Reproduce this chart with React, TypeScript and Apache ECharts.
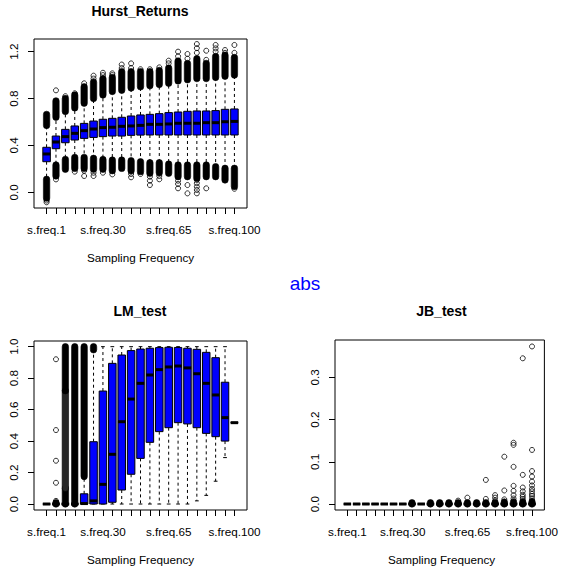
import React, { useEffect, useRef } from "react";
import * as echarts from "echarts";

// ---------- categories & axis ticks ----------
const categories = [
  "s.freq.1", "s.freq.5", "s.freq.10", "s.freq.15", "s.freq.20", "s.freq.25", "s.freq.30",
  "s.freq.35", "s.freq.40", "s.freq.45", "s.freq.50", "s.freq.55", "s.freq.60", "s.freq.65",
  "s.freq.70", "s.freq.75", "s.freq.80", "s.freq.85", "s.freq.90", "s.freq.95", "s.freq.100",
];
const categoryPositions = [1, 2, 3, 4, 5, 6, 7, 8, 9, 10, 11, 12, 13, 14, 15, 16, 17, 18, 19, 20, 21];
const labelledPositions = [1, 7, 14, 21];
const hurstTicks = [0, 0.4, 0.8, 1.2];
const lmTicks = [0, 0.2, 0.4, 0.6, 0.8, 1.0];
const jbTicks = [0, 0.1, 0.2, 0.3];

// ---------- Hurst_Returns ----------
const hurstQ1 = [0.261, 0.372, 0.423, 0.446, 0.46, 0.468, 0.475, 0.48, 0.48, 0.486, 0.488, 0.489, 0.489, 0.489, 0.489, 0.489, 0.489, 0.489, 0.489, 0.489, 0.489];
const hurstMedian = [0.327, 0.429, 0.475, 0.503, 0.526, 0.54, 0.552, 0.555, 0.563, 0.566, 0.571, 0.58, 0.58, 0.583, 0.589, 0.589, 0.589, 0.594, 0.594, 0.602, 0.605];
const hurstQ3 = [0.384, 0.48, 0.537, 0.566, 0.588, 0.608, 0.623, 0.631, 0.64, 0.651, 0.66, 0.665, 0.671, 0.68, 0.685, 0.691, 0.694, 0.694, 0.697, 0.708, 0.711];
const hurstWhiskerHigh = [0.57, 0.64, 0.69, 0.72, 0.76, 0.8, 0.83, 0.86, 0.87, 0.89, 0.9, 0.91, 0.92, 0.93, 0.95, 0.96, 0.97, 0.97, 0.98, 0.99, 1.0];
const hurstWhiskerLow = [0.111, 0.233, 0.281, 0.298, 0.298, 0.29, 0.28, 0.275, 0.275, 0.27, 0.261, 0.253, 0.253, 0.241, 0.233, 0.233, 0.233, 0.233, 0.219, 0.205, 0.205];
// dense runs of outliers (upper run starts at the upper whisker, lower run ends at the lower whisker)
const hurstUpperDenseTop = [0.665, 0.78, 0.8, 0.83, 0.9, 0.94, 0.97, 0.98, 1.03, 1.03, 1.03, 1.03, 1.04, 1.06, 1.12, 1.1, 1.14, 1.1, 1.16, 1.17, 1.15];
const hurstLowerDenseBottom = [-0.05, 0.139, 0.196, 0.204, 0.204, 0.196, 0.196, 0.184, 0.204, 0.184, 0.176, 0.162, 0.167, 0.162, 0.133, 0.133, 0.119, 0.133, 0.133, 0.105, 0.05];
// isolated outliers
const hurstSparse = [
  [-0.085, -0.07],
  [0.87, 0.11],
  [0.82],
  [0.845, 0.176],
  [0.93, 0.184, 0.139],
  [0.97, 0.995, 0.167, 0.139],
  [1.0, 1.02, 0.167],
  [1.0, 1.015, 0.153],
  [1.06, 1.09],
  [1.06, 1.1, 0.156, 0.128],
  [1.05, 0.156],
  [1.05, 0.133, 0.099, 0.062],
  [1.066, 0.139, 0.111],
  [1.1, 1.123],
  [1.16, 1.2, 0.099, 0.071, 0.034],
  [1.14, 1.18, 0.062, -0.009],
  [1.19, 1.23, 1.265, 0.105, 0.077, 0.048, 0.02, -0.009],
  [1.13, 1.208, 0.034],
  [1.2, 1.228, 1.257],
  [1.19, 1.214],
  [1.19, 1.257, 0.03],
];

// ---------- LM_test ----------
const lmQ1 = [0, 0, 0, 0, 0, 0, 0, 0.011, 0.089, 0.189, 0.29, 0.392, 0.46, 0.485, 0.517, 0.509, 0.485, 0.449, 0.428, 0.4, 0.517];
const lmMedian = [0, 0, 0, 0, 0.003, 0.02, 0.125, 0.316, 0.523, 0.667, 0.767, 0.82, 0.854, 0.871, 0.877, 0.865, 0.828, 0.767, 0.693, 0.549, 0.517];
const lmQ3 = [0, 0, 0, 0, 0.065, 0.396, 0.718, 0.894, 0.947, 0.975, 0.985, 0.99, 0.994, 0.996, 0.995, 0.99, 0.983, 0.964, 0.93, 0.774, 0.517];
const lmWhiskerLow = [0, 0, 0, 0, 0, 0, 0, 0, 0, 0, 0, 0, 0, 0, 0, 0, 0.02, 0.055, 0.145, 0.295, 0.517];
const lmWhiskerHigh = [0, 0, 0, 0, 0.16, 0.975, 1, 1, 1, 1, 1, 1, 1, 1, 1, 1, 1, 1, 1, 1, 0.517];
const lmDenseCat = [2, 3, 3, 3, 4, 5, 6];
const lmDenseLow = [0, 0, 0.1, 0.72, 0, 0.175, 0.98];
const lmDenseHigh = [0.008, 0.1, 0.72, 1.0, 1.0, 1.0, 1.0];
const lmDenseShade = [0, 0, 1, 0, 0, 0, 0];
const lmSparseCat = [2, 2, 2, 2, 2];
const lmSparseValue = [0.92, 0.47, 0.275, 0.135, 0.02];

// ---------- JB_test ----------
const jbQ1 = [0, 0, 0, 0, 0, 0, 0, 0, 0, 0, 0, 0, 0, 0, 0, 0, 0, 0, 0, 0, 0];
const jbMedian = [0, 0, 0, 0, 0, 0, 0, 0, 0, 0, 0, 0, 0, 0, 0, 0, 0, 0, 0, 0, 0];
const jbQ3 = [0, 0, 0, 0, 0, 0, 0, 0, 0, 0, 0, 0, 0, 0, 0, 0, 0, 0, 0, 0, 0];
const jbWhiskerLow = [0, 0, 0, 0, 0, 0, 0, 0, 0, 0, 0, 0, 0, 0, 0, 0, 0, 0, 0, 0, 0];
const jbWhiskerHigh = [0, 0, 0, 0, 0, 0, 0, 0, 0, 0, 0, 0, 0, 0, 0, 0, 0, 0, 0, 0, 0];
const jbDenseCat = [8, 10, 11, 12, 13, 14, 15, 16, 17, 18, 19, 20, 21];
const jbDenseLow = [0, 0, 0, 0, 0, 0, 0, 0, 0, 0, 0, 0, 0];
const jbDenseHigh = [0.003, 0.003, 0.003, 0.003, 0.003, 0.003, 0.003, 0.003, 0.003, 0.004, 0.004, 0.004, 0.005];
const jbSparseCat = [
  13, 14, 16, 16, 17, 17, 17, 18, 18, 18, 18,
  19, 19, 19, 19, 19, 19, 19, 19,
  20, 20, 20, 20, 20, 20, 20, 20,
  21, 21, 21, 21, 21, 21, 21, 21, 21, 21, 21, 21,
];
const jbSparseValue = [
  0.008, 0.015, 0.057, 0.012, 0.021, 0.015, 0.008, 0.112, 0.032, 0.011, 0.006,
  0.145, 0.14, 0.088, 0.043, 0.031, 0.021, 0.013, 0.008,
  0.345, 0.069, 0.039, 0.03, 0.022, 0.017, 0.012, 0.007,
  0.373, 0.128, 0.078, 0.065, 0.053, 0.044, 0.036, 0.03, 0.024, 0.019, 0.013, 0.008,
];

const FONT = '"Liberation Sans", Arial, Helvetica, sans-serif';

function renderBox(params: any, api: any) {
  const x = api.value(0);
  const wlo = api.value(1);
  const q1 = api.value(2);
  const med = api.value(3);
  const q3 = api.value(4);
  const whi = api.value(5);
  const bw = api.size([0.8, 0])[0];
  const cw = bw / 2;
  const cx = api.coord([x, q3])[0];
  const y = (v: number) => api.coord([x, v])[1];
  const children: any[] = [];
  const dash = { stroke: "#000", lineWidth: 1, lineDash: [3, 3], fill: null };
  const solid = { stroke: "#000", lineWidth: 1, fill: null };
  if (whi > q3) children.push({ type: "line", shape: { x1: cx, y1: y(q3), x2: cx, y2: y(whi) }, style: dash });
  if (wlo < q1) children.push({ type: "line", shape: { x1: cx, y1: y(q1), x2: cx, y2: y(wlo) }, style: dash });
  children.push({ type: "line", shape: { x1: cx - cw / 2, y1: y(whi), x2: cx + cw / 2, y2: y(whi) }, style: solid });
  children.push({ type: "line", shape: { x1: cx - cw / 2, y1: y(wlo), x2: cx + cw / 2, y2: y(wlo) }, style: solid });
  children.push({
    type: "rect",
    shape: { x: cx - bw / 2, y: y(q3), width: bw, height: y(q1) - y(q3) },
    style: { fill: "#0000FF", stroke: "#000", lineWidth: 1 },
  });
  children.push({ type: "line", shape: { x1: cx - bw / 2, y1: y(med), x2: cx + bw / 2, y2: y(med) }, style: { stroke: "#000", lineWidth: 3, fill: null } });
  return { type: "group", children };
}

function renderDense(params: any, api: any) {
  const x = api.value(0);
  const lo = api.value(1);
  const hi = api.value(2);
  const shade = api.value(3);
  const [cx, yTop] = api.coord([x, hi]);
  const yBot = api.coord([x, lo])[1];
  const r = 3.2;
  return {
    type: "rect",
    shape: { x: cx - r, y: yTop - r, width: 2 * r, height: yBot - yTop + 2 * r, r: r },
    style: { fill: shade ? "#262626" : "#000", stroke: "#000", lineWidth: 0.6 },
  };
}

function boxData(q1: number[], med: number[], q3: number[], wlo: number[], whi: number[]) {
  return categoryPositions.map((p, i) => [p, wlo[i], q1[i], med[i], q3[i], whi[i]]);
}

export default function App() {
  const ref = useRef<HTMLDivElement>(null);
  useEffect(() => {
    if (!ref.current) return;
    const chart = echarts.init(ref.current, null, { renderer: "svg" });

    const grids = [
      { left: 34, top: 39, width: 213, height: 169 },
      { left: 34, top: 341, width: 213, height: 169 },
      { left: 335, top: 340, width: 213, height: 170 },
    ].map((g) => ({ ...g, show: true, borderColor: "#000", borderWidth: 1, backgroundColor: "transparent", containLabel: false }));

    const xAxis = [0, 1, 2].map((gi) => ({
      gridIndex: gi,
      type: "value",
      position: "bottom",
      min: -0.34,
      max: 22.34,
      axisLine: { show: false, onZero: false },
      splitLine: { show: false },
      axisTick: { show: true, length: 6, lineStyle: { color: "#000", width: 1 }, customValues: categoryPositions },
      axisLabel: {
        show: true,
        customValues: labelledPositions,
        formatter: (v: number) => categories[Math.round(v) - 1],
        margin: 15.5,
        fontSize: 11.7,
        fontFamily: FONT,
        color: "#000",
      },
    }));

    const yRanges = [
      [-0.134, 1.308, hurstTicks],
      [-0.038, 1.036, lmTicks],
      [-0.0142, 0.3883, jbTicks],
    ];
    const yAxis = yRanges.map(([mn, mx, ticks]: any, gi) => ({
      gridIndex: gi,
      type: "value",
      position: "left",
      min: mn,
      max: mx,
      axisLine: { show: false, onZero: false },
      splitLine: { show: false },
      axisTick: { show: true, length: 6, lineStyle: { color: "#000", width: 1 }, customValues: ticks },
      axisLabel: {
        show: true,
        customValues: ticks,
        formatter: (v: number) => v.toFixed(1),
        rotate: 90,
        margin: 15,
        fontSize: 11.7,
        fontFamily: FONT,
        color: "#000",
      },
    }));

    const hurstDense: number[][] = [];
    categoryPositions.forEach((p, i) => {
      hurstDense.push([p, hurstWhiskerHigh[i], hurstUpperDenseTop[i], 0]);
      hurstDense.push([p, hurstLowerDenseBottom[i], hurstWhiskerLow[i], 0]);
    });
    const hurstPoints: number[][] = [];
    hurstSparse.forEach((vals, i) => vals.forEach((v) => hurstPoints.push([categoryPositions[i], v])));

    const lmDense = lmDenseCat.map((c, i) => [c, lmDenseLow[i], lmDenseHigh[i], lmDenseShade[i]]);
    const lmPoints = lmSparseCat.map((c, i) => [c, lmSparseValue[i]]);
    const jbDense = jbDenseCat.map((c, i) => [c, jbDenseLow[i], jbDenseHigh[i], 0]);
    const jbPoints = jbSparseCat.map((c, i) => [c, jbSparseValue[i]]);

    const scatterStyle = {
      type: "scatter",
      symbol: "circle",
      symbolSize: 5,
      itemStyle: { color: "rgba(0,0,0,0)", borderColor: "#000", borderWidth: 1 },
      silent: true,
      emphasis: { disabled: true },
    };

    const series: any[] = [
      { type: "custom", xAxisIndex: 0, yAxisIndex: 0, renderItem: renderBox, data: boxData(hurstQ1, hurstMedian, hurstQ3, hurstWhiskerLow, hurstWhiskerHigh), silent: true },
      { type: "custom", xAxisIndex: 0, yAxisIndex: 0, renderItem: renderDense, data: hurstDense, silent: true },
      { ...scatterStyle, xAxisIndex: 0, yAxisIndex: 0, data: hurstPoints },
      { type: "custom", xAxisIndex: 1, yAxisIndex: 1, renderItem: renderBox, data: boxData(lmQ1, lmMedian, lmQ3, lmWhiskerLow, lmWhiskerHigh), silent: true },
      { type: "custom", xAxisIndex: 1, yAxisIndex: 1, renderItem: renderDense, data: lmDense, silent: true },
      { ...scatterStyle, xAxisIndex: 1, yAxisIndex: 1, data: lmPoints },
      { type: "custom", xAxisIndex: 2, yAxisIndex: 2, renderItem: renderBox, data: boxData(jbQ1, jbMedian, jbQ3, jbWhiskerLow, jbWhiskerHigh), silent: true },
      { type: "custom", xAxisIndex: 2, yAxisIndex: 2, renderItem: renderDense, data: jbDense, silent: true },
      { ...scatterStyle, xAxisIndex: 2, yAxisIndex: 2, data: jbPoints },
    ];

    const text = (t: string, x: number, y: number, font: string, fill = "#000") => ({
      type: "text",
      x,
      y,
      silent: true,
      style: { text: t, font, fill, align: "center", verticalAlign: "middle", textAlign: "center", textVerticalAlign: "middle" },
    });

    chart.setOption({
      animation: false,
      backgroundColor: "#fff",
      grid: grids,
      xAxis,
      yAxis,
      series,
      graphic: [
        text("Hurst_Returns", 140, 10.5, `bold 14px ${FONT}`),
        text("LM_test", 140, 311, `bold 14px ${FONT}`),
        text("JB_test", 441.5, 311, `bold 14px ${FONT}`),
        text("Sampling Frequency", 140.5, 257.6, `11.7px ${FONT}`),
        text("Sampling Frequency", 140.5, 559.4, `11.7px ${FONT}`),
        text("Sampling Frequency", 441.5, 559.4, `11.7px ${FONT}`),
        text("abs", 305, 283.5, `19px ${FONT}`, "#0000FF"),
      ],
    });
    return () => chart.dispose();
  }, []);
  return <div ref={ref} style={{ position: "absolute", left: 0, top: 0, width: 561, height: 570 }} />;
}
